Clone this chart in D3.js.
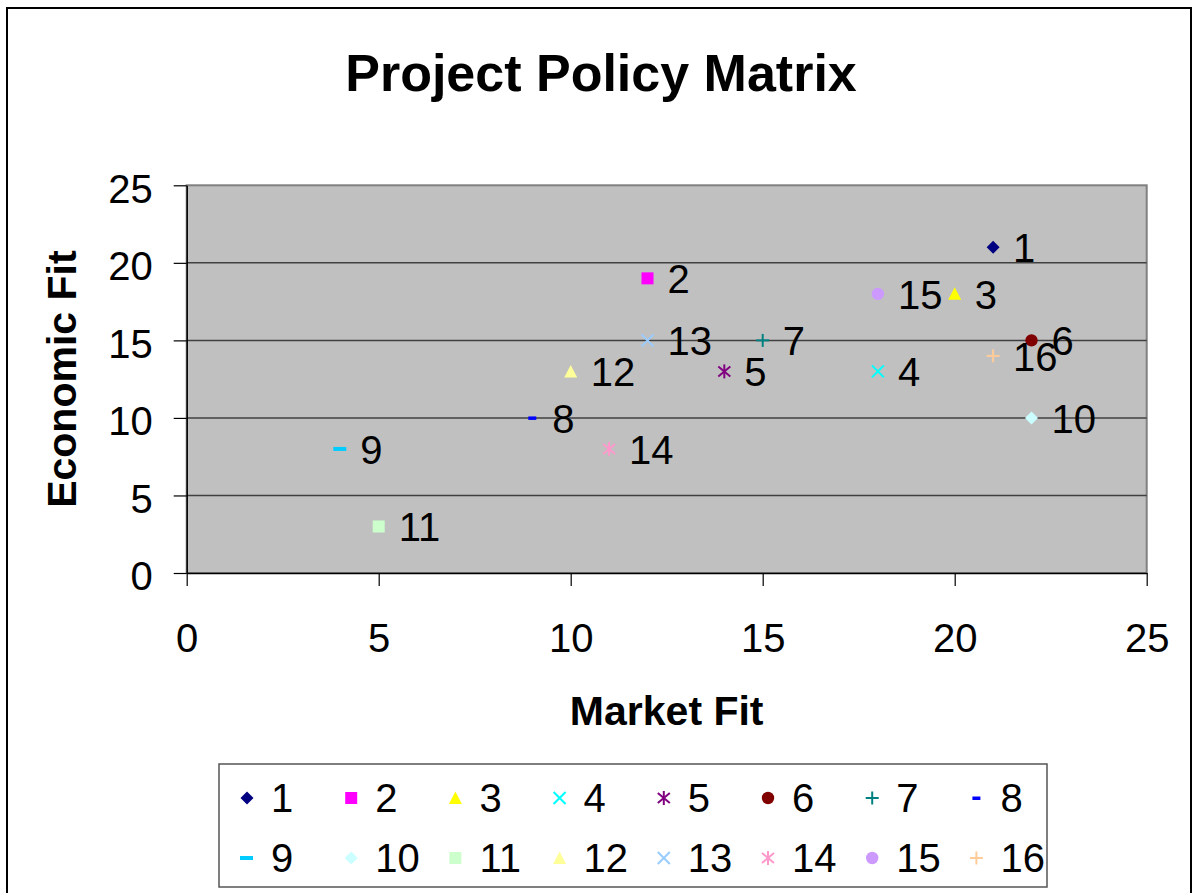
<!DOCTYPE html>
<html>
<head>
<meta charset="utf-8">
<script src="https://cdn.jsdelivr.net/npm/d3@7"></script>
<style>
  body { margin: 0; background: #fff; }
  text { font-family: Arial, "Liberation Sans", sans-serif; fill: #000; }
</style>
</head>
<body>
<div id="chart"></div>
<script>
// data
var projects = ["1", "2", "3", "4", "5", "6", "7", "8", "9", "10", "11", "12", "13", "14", "15", "16"];
var marketFit = [21, 12, 20, 18, 14, 22, 15, 9, 4, 22, 5, 10, 12, 11, 18, 21];
var economicFit = [21, 19, 18, 13, 13, 15, 15, 10, 8, 10, 3, 13, 15, 8, 18, 14];
var xTicks = [0, 5, 10, 15, 20, 25];
var yTicks = [0, 5, 10, 15, 20, 25];

// excel default series styles
var colors = ["#000080", "#FF00FF", "#FFFF00", "#00FFFF", "#800080", "#800000", "#008080", "#0000FF",
              "#00CCFF", "#CCFFFF", "#CCFFCC", "#FFFF99", "#99CCFF", "#FF99CC", "#CC99FF", "#FFCC99"];
var shapes = ["diamond", "square", "triangle", "x", "star", "circle", "plus", "dash",
              "longdash", "diamond", "square", "triangle", "x", "star", "circle", "plus"];

const W = 1199, H = 893;
const plot = { left: 186.7, right: 1146.7, top: 185.3, bottom: 573 };

var svg = d3.select("#chart").append("svg")
    .attr("width", W)
    .attr("height", H);

// outer chart border
svg.append("rect")
    .attr("x", 7).attr("y", 8)
    .attr("width", 1184).attr("height", 900)
    .attr("fill", "#fff")
    .attr("stroke", "#000")
    .attr("stroke-width", 2);

// Scales
var x = d3.scaleLinear().domain([0, 25]).range([plot.left, plot.right]);
var y = d3.scaleLinear().domain([0, 25]).range([plot.bottom, plot.top]);

// plot area
svg.append("rect")
    .attr("x", plot.left).attr("y", plot.top)
    .attr("width", plot.right - plot.left)
    .attr("height", plot.bottom - plot.top)
    .attr("fill", "#C0C0C0")
    .attr("stroke", "#808080")
    .attr("stroke-width", 2);

// gridlines
svg.append("g")
    .selectAll("line")
    .data(yTicks.filter(function(d) { return d > 0 && d < 25; }))
    .join("line")
    .attr("x1", plot.left).attr("x2", plot.right)
    .attr("y1", function(d) { return y(d); })
    .attr("y2", function(d) { return y(d); })
    .attr("stroke", "#404040")
    .attr("stroke-width", 1.5);

// Axes
var yAxis = svg.append("g")
    .attr("transform", "translate(" + plot.left + ",0)")
    .call(d3.axisLeft(y).tickValues(yTicks).tickSize(13).tickPadding(21).tickSizeOuter(0));
var xAxis = svg.append("g")
    .attr("transform", "translate(0," + plot.bottom + ")")
    .call(d3.axisBottom(x).tickValues(xTicks).tickSize(13).tickPadding(38).tickSizeOuter(0));

[xAxis, yAxis].forEach(function(ax) {
    ax.select(".domain").attr("stroke", "#000").attr("stroke-width", 1.5);
    ax.selectAll(".tick line").attr("stroke", "#000").attr("stroke-width", 1.2);
    ax.selectAll(".tick text")
        .style("font-size", "40px")
        .style("font-family", "Arial, 'Liberation Sans', sans-serif")
        .attr("fill", "#000");
});
yAxis.selectAll(".tick text").attr("dy", "0.42em");

// marker drawing (sizes)
function drawMarker(g, shape, color) {
    var p = null;
    if (shape == "diamond") p = "M0,-6.5L6.5,0L0,6.5L-6.5,0Z";
    if (shape == "square") p = "M-6,-6H6V6H-6Z";
    if (shape == "triangle") p = "M0,-6.5L6.5,6L-6.5,6Z";
    if (p) {
        g.append("path").attr("d", p).attr("fill", color);
        return;
    }
    if (shape == "circle") {
        g.append("circle").attr("r", 6.2).attr("fill", color);
        return;
    }
    var segs = [];
    if (shape == "x") segs = [[-6, -6, 6, 6], [-6, 6, 6, -6]];
    if (shape == "plus") segs = [[-6.5, 0, 6.5, 0], [0, -6.5, 0, 6.5]];
    if (shape == "star") segs = [[-6, -5, 6, 5], [-6, 5, 6, -5], [0, -7, 0, 7]];
    segs.forEach(function(s) {
        g.append("line")
            .attr("x1", s[0]).attr("y1", s[1]).attr("x2", s[2]).attr("y2", s[3])
            .attr("stroke", color).attr("stroke-width", 2);
    });
    if (shape == "dash") g.append("rect").attr("x", -4).attr("y", -1.5).attr("width", 8).attr("height", 3.5).attr("fill", color);
    if (shape == "longdash") g.append("rect").attr("x", -7).attr("y", -2).attr("width", 13).attr("height", 4).attr("fill", color);
}

// points + data labels
var pts = svg.append("g").selectAll("g")
    .data(projects)
    .join("g")
    .attr("transform", function(d, i) { return "translate(" + x(marketFit[i]) + "," + y(economicFit[i]) + ")"; });

pts.each(function(d, i) { drawMarker(d3.select(this), shapes[i], colors[i]); });

pts.append("text")
    .attr("x", 20)
    .attr("dy", "0.37em")
    .style("font-size", "40px")
    .text(function(d) { return d; });

// Title
svg.append("text")
    .attr("x", 601)
    .attr("y", 91)
    .attr("text-anchor", "middle")
    .style("font-size", "52px")
    .style("font-weight", "bold")
    .text("Project Policy Matrix");

// axis titles
svg.append("text")
    .attr("x", (plot.left + plot.right) / 2)
    .attr("y", 725)
    .attr("text-anchor", "middle")
    .style("font-size", "41px")
    .style("font-weight", "bold")
    .text("Market Fit");

svg.append("text")
    .attr("text-anchor", "middle")
    .attr("transform", "translate(76," + ((plot.top + plot.bottom) / 2) + ")rotate(-90)")
    .style("font-size", "41px")
    .style("font-weight", "bold")
    .text("Economic Fit");

// Legend
var legend = svg.append("g");
legend.append("rect")
    .attr("x", 219).attr("y", 764)
    .attr("width", 828).attr("height", 123)
    .attr("fill", "#fff")
    .attr("stroke", "#555")
    .attr("stroke-width", 1.5);

var items = legend.selectAll("g.item")
    .data(projects)
    .join("g")
    .attr("class", "item")
    .attr("transform", function(d, i) {
        return "translate(" + (247 + (i % 8) * 104.2) + "," + (798 + Math.floor(i / 8) * 60) + ")";
    });

items.each(function(d, i) { drawMarker(d3.select(this), shapes[i], colors[i]); });

items.append("text")
    .attr("x", 24)
    .attr("dy", "0.36em")
    .style("font-size", "40px")
    .text(function(d) { return d; });
</script>
</body>
</html>
